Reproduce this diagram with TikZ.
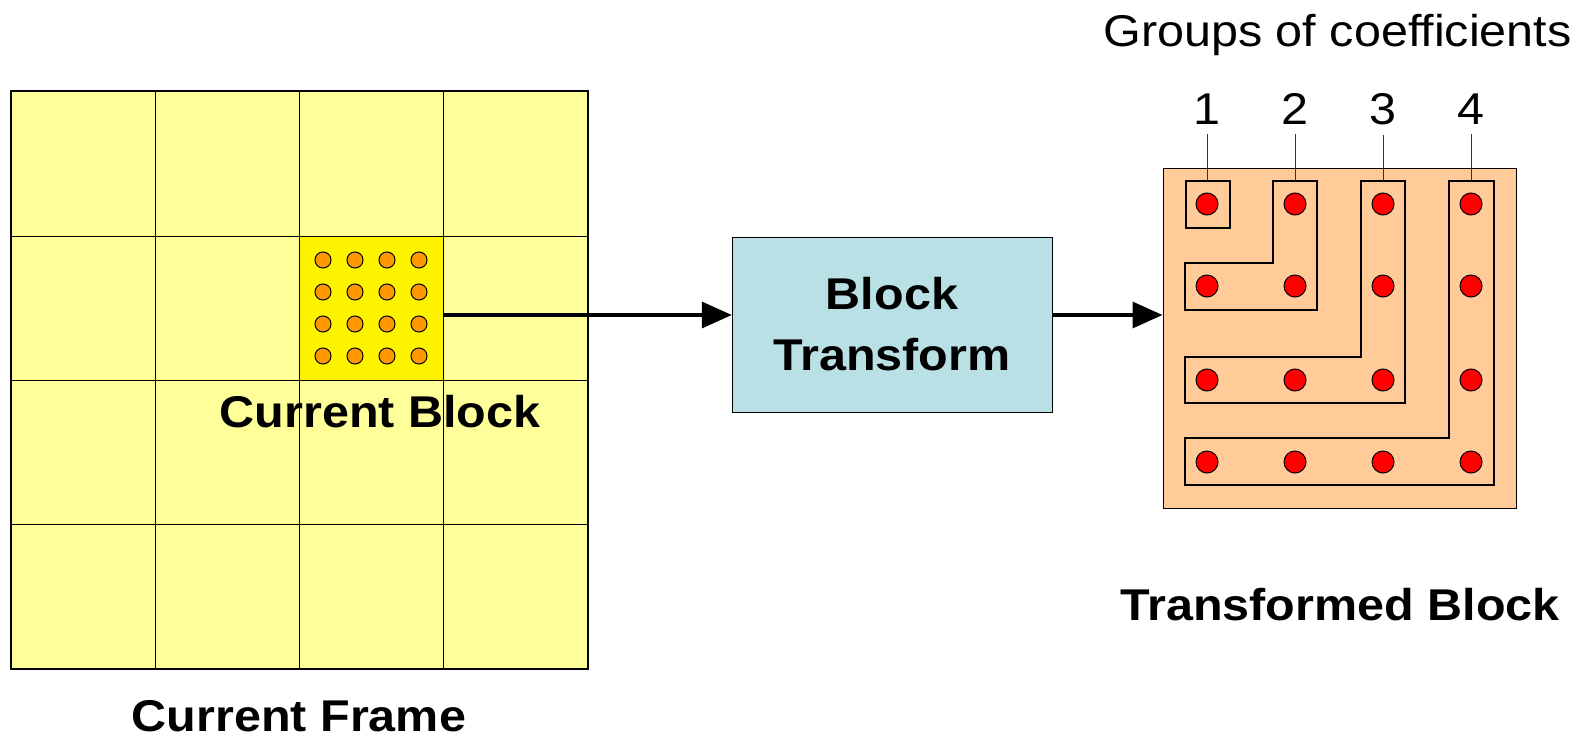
\documentclass[tikz,border=0pt]{standalone}
\usepackage{fontspec}
\setmainfont{Liberation Sans}[FakeStretch=1.09]
\usetikzlibrary{arrows.meta}

\definecolor{paleyellow}{RGB}{255,255,153}
\definecolor{paleblue}{RGB}{185,224,228}
\definecolor{peach}{RGB}{255,204,153}
\definecolor{dotorange}{RGB}{255,153,0}

\tikzset{
  cell/.style={draw, fill=paleyellow, minimum size=144pt, inner sep=0pt, line width=1pt},
  lbl/.style={font=\fontsize{44.5}{61}\selectfont, inner sep=0pt},
  boldlbl/.style={lbl, font=\fontsize{44.5}{61}\selectfont\bfseries},
  flow/.style={->, line width=3.5pt},
  group/.style={line width=1.5pt, line join=miter},
  leader/.style={line width=1pt, black!80}
}

\begin{document}
\begin{tikzpicture}[x=1pt,y=-1pt,>={Triangle[length=30pt,width=26pt]}]
\useasboundingbox (0,0) rectangle (1579,738);

% current frame
\foreach \i in {0,...,3}
  \foreach \j in {0,...,3}
    \node[cell] (c\i\j) at (83+144*\i, 164+144*\j) {};
\node[cell, fill=yellow] (cur) at (c21) {};
\draw[line width=2pt] (c00.north west) rectangle (c33.south east);
\foreach \x in {323,355,387,419}
  \foreach \y in {260,292,324,356}
    \draw[fill=dotorange, line width=1pt] (\x,\y) circle (8pt);
\node[boldlbl, anchor=base] (curlbl) at (380,427) {Current Block};
\node[boldlbl, anchor=base] (framelbl) at (299,731.5) {Current Frame};

% transform
\node[draw, fill=paleblue, minimum width=320pt, minimum height=175pt, inner sep=0pt,
      align=center, boldlbl] (bt) at (892,324.5) {Block\\Transform};

% transformed block
\node[draw, fill=peach, minimum width=353pt, minimum height=339pt, inner sep=0pt,
      line width=1pt] (tb) at (1339.5,338.5) {};
\draw[group] (1186,181) rectangle (1230,228);
\draw[group] (1273,181) -- (1317,181) -- (1317,310) -- (1185,310) -- (1185,263) -- (1273,263) -- cycle;
\draw[group] (1361,181) -- (1405,181) -- (1405,403) -- (1185,403) -- (1185,357) -- (1361,357) -- cycle;
\draw[group] (1449,181) -- (1494,181) -- (1494,485) -- (1185,485) -- (1185,438) -- (1449,438) -- cycle;
\foreach \x in {1207,1295,1383,1471}
  \foreach \y in {204,286,380,462}
    \draw[fill=red, line width=1pt] (\x,\y) circle (11pt);
\node[boldlbl, anchor=base] (tblbl) at (1340,620) {Transformed Block};

% group numbers
\node[lbl, anchor=base] (grplbl) at (1337.5,47) {Groups of coefficients};
\foreach \k/\x in {1/1207,2/1295,3/1383,4/1471} {
  \node[lbl, anchor=base] (n\k) at (\x,125) {\k};
  \coordinate (g\k) at (\x,181);
  \draw[leader] ([yshift=-9pt]n\k.south) -- (g\k);
}

% arrows
\coordinate (lvl) at (0,315);
\draw[flow] (cur.east |- lvl) -- (bt.west |- lvl);
\draw[flow] (bt.east |- lvl) -- (tb.west |- lvl);
\end{tikzpicture}
\end{document}
